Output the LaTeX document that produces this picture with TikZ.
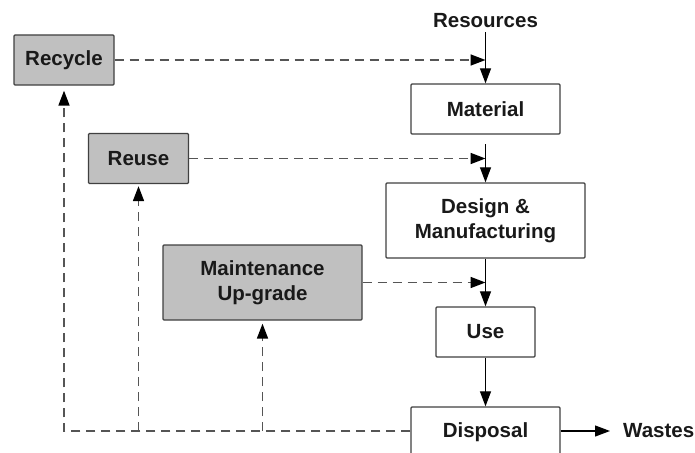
\documentclass[tikz,border=0pt]{standalone}
\usepackage{fontspec}
\setmainfont{Liberation Sans}
\usetikzlibrary{arrows.meta}
\definecolor{boxgray}{HTML}{C0C0C0}
\definecolor{edge}{HTML}{404040}
\definecolor{dashgray}{HTML}{555555}
\begin{document}
\begin{tikzpicture}[x=1pt,y=-1pt,
  every node/.style={font=\fontsize{20.5}{25}\selectfont\bfseries, text=black!90},
  box/.style={draw=edge, line width=1.3pt, rounded corners=1pt, align=center, inner sep=0pt},
  gbox/.style={box, fill=boxgray},
  wbox/.style={box, fill=white},
  tip/.style={-{Triangle[length=15pt,width=11pt,black]}},
  flow/.style={tip, black, line width=1.2pt},
  loop/.style={tip, dashgray, line width=1.7pt, dash pattern=on 9pt off 6pt},
  plain/.style={inner sep=0pt}]
\useasboundingbox (0,0) rectangle (695,452);
\node[gbox, minimum width=100pt, minimum height=50pt] (recycle) at (64,60) {Recycle};
\node[gbox, minimum width=100pt, minimum height=50pt] (reuse) at (138.5,158.5) {Reuse};
\node[gbox, minimum width=199pt, minimum height=75pt] (maint) at (262.5,282.5) {Maintenance\\Up-grade};
\node[plain] (res) at (485.5,21) {Resources};
\node[wbox, minimum width=149pt, minimum height=50pt] (mat) at (485.5,109) {Material};
\node[wbox, minimum width=199pt, minimum height=75pt] (des) at (485.5,220.5) {Design \&\\Manufacturing};
\node[wbox, minimum width=99pt, minimum height=50pt] (use) at (485.5,332) {Use};
\node[wbox, minimum width=149pt, minimum height=50pt] (disp) at (485.5,432) {Disposal};
\node[plain, anchor=west] (wastes) at (623,431) {Wastes};
\coordinate (gap) at (485.5,144);
\coordinate (bl) at (64,431);
\coordinate (b2) at (138.5,431);
\coordinate (b3) at (262.5,431);
% main flow
\draw[flow, shorten <=4pt] (res) -- (mat);
\draw[flow] (gap) -- (des);
\draw[flow] (des) -- (use);
\draw[flow] (use) -- (disp);
\draw[flow, shorten >=13pt] (disp.east |- wastes.west) -- (wastes.west);
% loops
\draw[loop] (recycle.east) -- (recycle.east -| mat.north);
\draw[loop] (reuse.east) -- (reuse.east -| mat.north);
\draw[loop] (maint.east) -- (maint.east -| mat.north);
\draw[loop, shorten >=5pt] (disp.west |- bl) -- (bl) -- (recycle.south);
\draw[loop, shorten >=2pt] (b2) -- (reuse.south);
\draw[loop, shorten >=3pt] (b3) -- (maint.south);
\end{tikzpicture}
\end{document}
